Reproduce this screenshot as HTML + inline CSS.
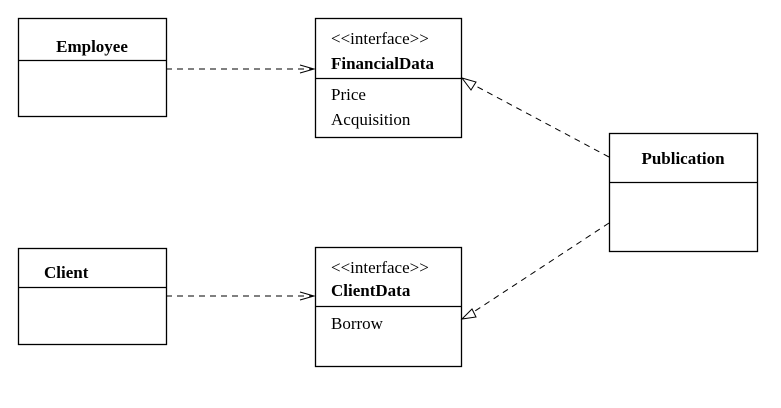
<!DOCTYPE html>
<html><head><style>body{margin:0;background:#fff}</style></head><body>
<svg width="781" height="403" xmlns="http://www.w3.org/2000/svg" font-family="Liberation Serif, serif" font-size="17">
<g fill="none" stroke="#000" stroke-width="1.3">
<rect x="18.5" y="18.5" width="148" height="98"/><line x1="18" y1="60.5" x2="167" y2="60.5"/>
<rect x="315.5" y="18.5" width="146" height="119"/><line x1="315" y1="78.5" x2="462" y2="78.5"/>
<rect x="609.5" y="133.5" width="148" height="118"/><line x1="609" y1="182.5" x2="758" y2="182.5"/>
<rect x="18.5" y="248.5" width="148" height="96"/><line x1="18" y1="287.5" x2="167" y2="287.5"/>
<rect x="315.5" y="247.5" width="146" height="119"/><line x1="315" y1="306.5" x2="462" y2="306.5"/>
</g>
<g fill="none" stroke="#000" stroke-width="1" stroke-dasharray="6,5">
<line x1="166" y1="69" x2="313" y2="69"/>
<line x1="166" y1="296" x2="313" y2="296"/>
<line x1="609" y1="157" x2="472" y2="84"/>
<line x1="609" y1="223" x2="472" y2="313"/>
</g>
<g fill="none" stroke="#000" stroke-width="1">
<polyline points="300,65 314,69 300,73"/>
<polyline points="300,292 314,296 300,300"/>
<polygon points="462,78 476,82 471,90" fill="#fff"/>
<polygon points="462,319 472,309 476,317" fill="#fff"/>
</g>
<g fill="#000">
<text x="92" y="52" text-anchor="middle" font-weight="bold">Employee</text>
<text x="331" y="44">&lt;&lt;interface&gt;&gt;</text>
<text x="331" y="69" font-weight="bold">FinancialData</text>
<text x="331" y="100">Price</text>
<text x="331" y="125">Acquisition</text>
<text x="683" y="164" text-anchor="middle" font-weight="bold">Publication</text>
<text x="44" y="278" font-weight="bold">Client</text>
<text x="331" y="273">&lt;&lt;interface&gt;&gt;</text>
<text x="331" y="296" font-weight="bold">ClientData</text>
<text x="331" y="329">Borrow</text>
</g>
</svg>
</body></html>
